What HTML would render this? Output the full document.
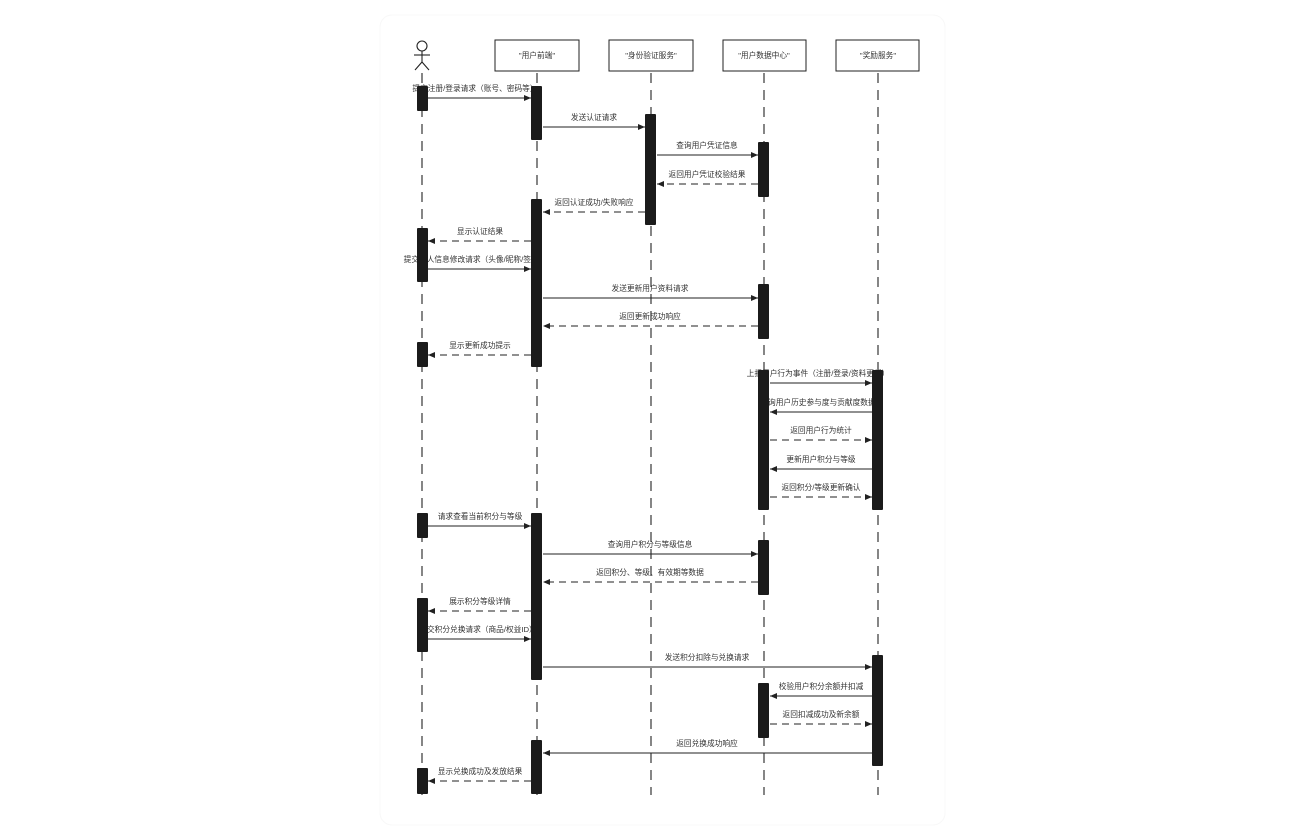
<!DOCTYPE html>
<html><head><meta charset="utf-8"><style>
html,body{margin:0;padding:0;background:#fff;}
svg{display:block}
text{font-family:"Liberation Sans","Noto Sans CJK SC",sans-serif;font-size:7.7px;fill:#333;text-anchor:middle}
.l{stroke:#222;stroke-width:1.1;fill:none}
.d{stroke:#222;stroke-width:1.1;fill:none;stroke-dasharray:7 5}
.ll{stroke:#222;stroke-width:1.1;stroke-dasharray:10 7}
.b{fill:#1b1b1b}
</style></head><body>
<svg width="1296" height="840" viewBox="0 0 1296 840">
<defs><marker id="a" markerWidth="8" markerHeight="8" refX="7" refY="4" orient="auto" markerUnits="userSpaceOnUse"><path d="M0,1 L7,4 L0,7 z" fill="#222"/></marker></defs>
<rect x="380" y="15" width="565" height="810" rx="12" fill="#fff" stroke="#f8f8f8"/>
<line class="ll" x1="422" y1="73" x2="422" y2="795"/>
<line class="ll" x1="537" y1="73" x2="537" y2="795"/>
<line class="ll" x1="651" y1="73" x2="651" y2="795"/>
<line class="ll" x1="764" y1="73" x2="764" y2="795"/>
<line class="ll" x1="878" y1="73" x2="878" y2="795"/>
<circle cx="422" cy="46" r="5" fill="#fff" stroke="#222" stroke-width="1.1"/>
<line class="l" x1="422" y1="51" x2="422" y2="62"/>
<line class="l" x1="414" y1="55" x2="430" y2="55"/>
<polyline class="l" points="415,70 422,62 429,70"/>
<rect x="495" y="40" width="84" height="31" fill="#fff" stroke="#222"/>
<rect x="609" y="40" width="84" height="31" fill="#fff" stroke="#222"/>
<rect x="723" y="40" width="83" height="31" fill="#fff" stroke="#222"/>
<rect x="836" y="40" width="83" height="31" fill="#fff" stroke="#222"/>
<text x="537" y="58">"用户前端"</text>
<text x="651" y="58">"身份验证服务"</text>
<text x="764" y="58">"用户数据中心"</text>
<text x="878" y="58">"奖励服务"</text>
<g>
<line class="l" x1="428" y1="98" x2="531" y2="98" marker-end="url(#a)"/><text x="475" y="91">提交注册/登录请求（账号、密码等）</text>
<line class="l" x1="543" y1="127" x2="645" y2="127" marker-end="url(#a)"/><text x="594" y="120">发送认证请求</text>
<line class="l" x1="657" y1="155" x2="758" y2="155" marker-end="url(#a)"/><text x="707" y="148">查询用户凭证信息</text>
<line class="d" x1="758" y1="184" x2="657" y2="184" marker-end="url(#a)"/><text x="707" y="177">返回用户凭证校验结果</text>
<line class="d" x1="645" y1="212" x2="543" y2="212" marker-end="url(#a)"/><text x="594" y="205">返回认证成功/失败响应</text>
<line class="d" x1="531" y1="241" x2="428" y2="241" marker-end="url(#a)"/><text x="480" y="234">显示认证结果</text>
<line class="l" x1="428" y1="269" x2="531" y2="269" marker-end="url(#a)"/><text x="475" y="262">提交个人信息修改请求（头像/昵称/签名）</text>
<line class="l" x1="543" y1="298" x2="758" y2="298" marker-end="url(#a)"/><text x="650" y="291">发送更新用户资料请求</text>
<line class="d" x1="758" y1="326" x2="543" y2="326" marker-end="url(#a)"/><text x="650" y="319">返回更新成功响应</text>
<line class="d" x1="531" y1="355" x2="428" y2="355" marker-end="url(#a)"/><text x="480" y="348">显示更新成功提示</text>
<line class="l" x1="770" y1="383" x2="872" y2="383" marker-end="url(#a)"/><text x="818" y="376">上报用户行为事件（注册/登录/资料更新）</text>
<line class="l" x1="872" y1="412" x2="770" y2="412" marker-end="url(#a)"/><text x="818" y="405">查询用户历史参与度与贡献度数据</text>
<line class="d" x1="770" y1="440" x2="872" y2="440" marker-end="url(#a)"/><text x="821" y="433">返回用户行为统计</text>
<line class="l" x1="872" y1="469" x2="770" y2="469" marker-end="url(#a)"/><text x="821" y="462">更新用户积分与等级</text>
<line class="d" x1="770" y1="497" x2="872" y2="497" marker-end="url(#a)"/><text x="821" y="490">返回积分/等级更新确认</text>
<line class="l" x1="428" y1="526" x2="531" y2="526" marker-end="url(#a)"/><text x="480" y="519">请求查看当前积分与等级</text>
<line class="l" x1="543" y1="554" x2="758" y2="554" marker-end="url(#a)"/><text x="650" y="547">查询用户积分与等级信息</text>
<line class="d" x1="758" y1="582" x2="543" y2="582" marker-end="url(#a)"/><text x="650" y="575">返回积分、等级、有效期等数据</text>
<line class="d" x1="531" y1="611" x2="428" y2="611" marker-end="url(#a)"/><text x="480" y="604">展示积分等级详情</text>
<line class="l" x1="428" y1="639" x2="531" y2="639" marker-end="url(#a)"/><text x="478" y="632">提交积分兑换请求（商品/权益ID）</text>
<line class="l" x1="543" y1="667" x2="872" y2="667" marker-end="url(#a)"/><text x="707" y="660">发送积分扣除与兑换请求</text>
<line class="l" x1="872" y1="696" x2="770" y2="696" marker-end="url(#a)"/><text x="821" y="689">校验用户积分余额并扣减</text>
<line class="d" x1="770" y1="724" x2="872" y2="724" marker-end="url(#a)"/><text x="821" y="717">返回扣减成功及新余额</text>
<line class="l" x1="872" y1="753" x2="543" y2="753" marker-end="url(#a)"/><text x="707" y="746">返回兑换成功响应</text>
<line class="d" x1="531" y1="781" x2="428" y2="781" marker-end="url(#a)"/><text x="480" y="774">显示兑换成功及发放结果</text>
</g>
<g class="b">
<rect x="417" y="86" width="11" height="25" rx="1"/>
<rect x="417" y="228" width="11" height="54" rx="1"/>
<rect x="417" y="342" width="11" height="25" rx="1"/>
<rect x="417" y="513" width="11" height="25" rx="1"/>
<rect x="417" y="598" width="11" height="54" rx="1"/>
<rect x="417" y="768" width="11" height="26" rx="1"/>
<rect x="531" y="86" width="11" height="54" rx="1"/>
<rect x="531" y="199" width="11" height="168" rx="1"/>
<rect x="531" y="513" width="11" height="167" rx="1"/>
<rect x="531" y="740" width="11" height="54" rx="1"/>
<rect x="645" y="114" width="11" height="111" rx="1"/>
<rect x="758" y="142" width="11" height="55" rx="1"/>
<rect x="758" y="284" width="11" height="55" rx="1"/>
<rect x="758" y="370" width="11" height="140" rx="1"/>
<rect x="758" y="540" width="11" height="55" rx="1"/>
<rect x="758" y="683" width="11" height="55" rx="1"/>
<rect x="872" y="370" width="11" height="140" rx="1"/>
<rect x="872" y="655" width="11" height="111" rx="1"/>
</g>
</svg>
</body></html>
